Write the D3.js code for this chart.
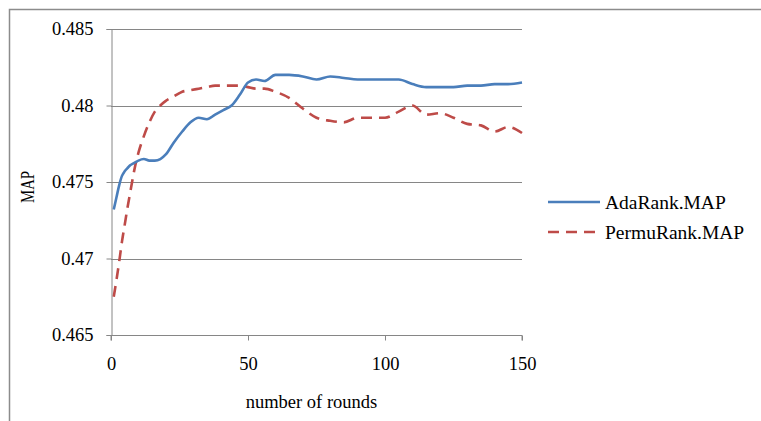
<!DOCTYPE html>
<html>
<head>
<meta charset="utf-8">
<title>AdaRank vs PermuRank MAP</title>
<script src="https://d3js.org/d3.v7.min.js"></script>
<style type="text/css">
body { margin:0; background:#fff; }
text { font-family:"Liberation Serif","Times New Roman",serif; fill:#000; }
</style>
</head>
<body>
<svg id="chart" width="761" height="421"></svg>
<script>
// data
var rounds = [1,2,3,4,5,6,7,8,9,10,12,14,16,18,20,23,26,29,32,35,38,41,44,47,50,53,56,60,65,70,75,80,85,90,95,100,105,110,115,120,125,130,135,140,145,150];
var adaRank = [0.4732,0.4740,0.4748,0.4754,0.4757,0.4759,0.4761,0.4762,0.4763,0.4764,0.4765,0.4764,0.4764,0.4765,0.4768,0.4776,0.4783,0.4789,0.4792,0.4791,0.4794,0.4797,0.4800,0.4807,0.4815,0.4817,0.4816,0.4820,0.4820,0.4819,0.4817,0.4819,0.4818,0.4817,0.4817,0.4817,0.4817,0.4814,0.4812,0.4812,0.4812,0.4813,0.4813,0.4814,0.4814,0.4815];
var permuRank = [0.4675,0.4686,0.4698,0.4711,0.4722,0.4733,0.4743,0.4753,0.4762,0.4769,0.4780,0.4789,0.4796,0.4800,0.4803,0.4806,0.4809,0.4810,0.4811,0.4812,0.4813,0.4813,0.4813,0.4813,0.4812,0.4811,0.4811,0.4809,0.4805,0.4798,0.4792,0.4790,0.4789,0.4792,0.4792,0.4792,0.4796,0.4800,0.4794,0.4795,0.4792,0.4788,0.4787,0.4783,0.4786,0.4782];
var yTicks = [0.465,0.47,0.475,0.48,0.485];
var xTicks = [0,50,100,150];
var seriesNames = ["AdaRank.MAP","PermuRank.MAP"];

var svg = d3.select("#chart");
var plotL = 111, plotR = 522, plotT = 29, plotB = 335;
var grey = "#868686";

var x = d3.scaleLinear().domain([0,150]).range([plotL,plotR]);
var y = d3.scaleLinear().domain([0.465,0.485]).range([plotB,plotT]);

// outer frame (only top and left show)
svg.append("path").attr("d","M9.5,421V9.5H761")
  .attr("fill","none").attr("stroke","#8c8c8c").attr("stroke-width",1.5);

// gridlines
svg.selectAll("line.grid").data(yTicks.slice(1)).enter().append("line")
  .attr("x1",plotL).attr("x2",plotR)
  .attr("y1",function(d){ return Math.round(y(d))+0.5; })
  .attr("y2",function(d){ return Math.round(y(d))+0.5; })
  .attr("stroke",grey).attr("stroke-width",1);

// y axis
var yAxis = svg.append("g").attr("transform","translate("+(plotL+0.5)+",0)")
  .call(d3.axisLeft(y).tickValues(yTicks).tickSize(5).tickPadding(13)
    .tickFormat(function(d){ return String(+d.toFixed(3)); }));
// x axis
var xAxis = svg.append("g").attr("transform","translate(0,"+(plotB+0.5)+")")
  .call(d3.axisBottom(x).tickValues(xTicks).tickSize(5).tickPadding(16));

[yAxis,xAxis].forEach(function(g){
  g.select(".domain").attr("stroke",grey);
  g.selectAll(".tick line").attr("stroke",grey);
  g.selectAll("text").attr("font-size","18.5px")
    .attr("font-family","Liberation Serif, Times New Roman, serif").attr("fill","#000");
});
xAxis.select(".domain").attr("d","M"+plotL+",5V0H"+plotR+"V5");

// series
var line = d3.line().curve(d3.curveMonotoneX)
  .x(function(d){ return x(d[0]); }).y(function(d){ return y(d[1]); });

svg.append("path").datum(d3.zip(rounds,permuRank)).attr("d",line)
  .attr("fill","none").attr("stroke","#be4b48").attr("stroke-width",2.6)
  .attr("stroke-dasharray","11,7");
svg.append("path").datum(d3.zip(rounds,adaRank)).attr("d",line)
  .attr("fill","none").attr("stroke","#4a7ebb").attr("stroke-width",2.6);

// axis titles
svg.append("text").attr("x",(plotL+plotR)/2 - 5).attr("y",408).attr("text-anchor","middle")
  .attr("font-size","18.5px").text("number of rounds");
svg.append("text").attr("transform","translate(34,187) rotate(-90)").attr("text-anchor","middle")
  .attr("font-size","19px").attr("textLength",32).attr("lengthAdjust","spacingAndGlyphs").text("MAP");

// legend
var legend = svg.selectAll("g.legend").data(seriesNames).enter().append("g")
  .attr("transform",function(d,i){ return "translate(548,"+(202+i*30)+")"; });
legend.append("line").attr("x1",0).attr("x2",52)
  .attr("stroke",function(d,i){ return i ? "#be4b48" : "#4a7ebb"; })
  .attr("stroke-width",2.6)
  .attr("stroke-dasharray",function(d,i){ return i ? "11,7" : null; });
legend.append("text").attr("x",57).attr("y",6.5).attr("font-size","19.5px").text(function(d){ return d; });
</script>
</body>
</html>
